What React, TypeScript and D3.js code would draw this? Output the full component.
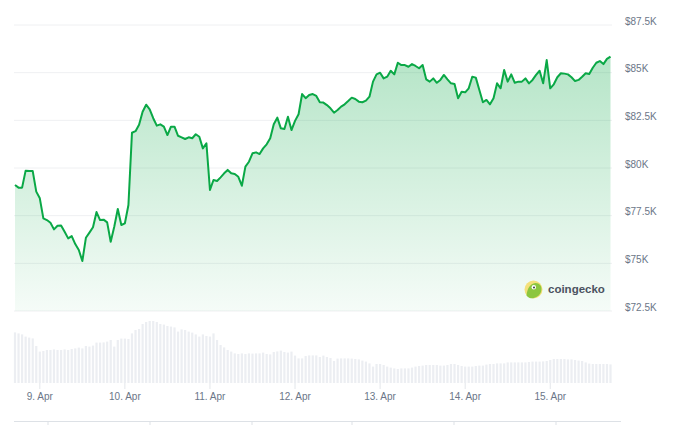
import React from "react";
import * as d3 from "d3";

const START = Date.UTC(2025, 3, 8, 17);
const HOUR = 3600 * 1000;

const prices: number[] = [
  79110, 78970, 78970, 79860, 79840, 79840, 78760, 78410, 77360, 77270,
  77130, 76780, 76970, 76990, 76660, 76310, 76430, 76010, 75700, 75120,
  76340, 76610, 76890, 77690, 77270, 77290, 77150, 76130, 76920, 77850,
  77010, 77100, 78060, 81850, 81930, 82270, 82950, 83320, 83080, 82610,
  82220, 82290, 82170, 81730, 82170, 82170, 81690, 81610, 81520, 81610,
  81560, 81770, 81640, 81030, 81300, 78850, 79370, 79320, 79510, 79720,
  79900, 79720, 79690, 79540, 79070, 80070, 80330, 80770, 80820, 80730,
  81030, 81240, 81560, 82290, 82640, 82080, 82050, 82690, 81990, 82470,
  82820, 83880, 83660, 83830, 83880, 83780, 83450, 83430, 83300, 83130,
  82900, 83040, 83220, 83340, 83510, 83690, 83620, 83480, 83450, 83530,
  83740, 84530, 84910, 85000, 84700, 84790, 85100, 84910, 85520, 85400,
  85400, 85310, 85450, 85350, 85230, 85400, 84650, 84530, 84700, 84470,
  84620, 84880, 84650, 84440, 84410, 83660, 84000, 83970, 84180, 84790,
  84740, 84090, 83450, 83570, 83340, 83660, 84440, 84180, 85140, 84530,
  84910, 84470, 84530, 84530, 84700, 84440, 84620, 84880, 85100, 84440,
  85660, 84180, 84390, 84760, 84970, 84950, 84910, 84760, 84560, 84620,
  84790, 84970, 84930, 85260, 85520, 85610, 85450, 85720, 85840,
];

// hourly volume, billions USD
const volumes: number[] = [
  2.53, 2.48, 2.43, 2.32, 2.27, 2.23, 1.85, 1.57, 1.6, 1.65,
  1.65, 1.68, 1.65, 1.65, 1.68, 1.65, 1.7, 1.73, 1.77, 1.73,
  1.85, 1.82, 1.87, 2.02, 2.02, 2.03, 2.07, 2.15, 1.82, 2.15,
  2.22, 2.22, 2.2, 2.48, 2.65, 2.7, 2.95, 3.05, 3.1, 3.1,
  3.05, 2.95, 2.92, 2.85, 2.82, 2.78, 2.57, 2.68, 2.65, 2.57,
  2.52, 2.43, 2.32, 2.43, 2.35, 2.32, 2.48, 2.15, 1.9, 1.78,
  1.65, 1.57, 1.48, 1.45, 1.48, 1.45, 1.48, 1.47, 1.48, 1.48,
  1.52, 1.45, 1.43, 1.55, 1.58, 1.62, 1.55, 1.52, 1.57, 1.37,
  1.23, 1.23, 1.35, 1.38, 1.38, 1.38, 1.3, 1.37, 1.3, 1.25,
  1.1, 1.22, 1.23, 1.23, 1.23, 1.22, 1.2, 1.18, 1.12, 1.07,
  0.98, 0.82, 0.95, 0.95, 0.9, 0.82, 0.77, 0.73, 0.7, 0.73,
  0.73, 0.73, 0.77, 0.82, 0.85, 0.87, 0.9, 0.9, 0.9, 0.9,
  0.87, 0.87, 0.9, 0.95, 0.95, 0.9, 0.85, 0.82, 0.82, 0.82,
  0.85, 0.87, 0.87, 0.92, 0.95, 0.95, 0.98, 0.98, 0.98, 1.03,
  1.03, 1.03, 1.03, 1.03, 1.03, 1.05, 1.07, 1.07, 1.07, 1.08,
  1.1, 1.15, 1.2, 1.2, 1.2, 1.2, 1.18, 1.18, 1.15, 1.12,
  1.1, 1.03, 0.97, 0.95, 0.95, 0.95, 0.95, 0.95, 0.93,
];

const yTickValues: number[] = [72500, 75000, 77500, 80000, 82500, 85000, 87500];
const yTickLabels: string[] = ["$72.5K", "$75K", "$77.5K", "$80K", "$82.5K", "$85K", "$87.5K"];
const tickDays: number[] = [9, 10, 11, 12, 13, 14, 15];

const W = 680;
const H = 425;

export default function App() {
  const times = prices.map((_, i) => new Date(START + i * HOUR));
  const x = d3.scaleUtc().domain([times[0], times[times.length - 1]]).range([15, 610.5]);
  const y = d3.scaleLinear().domain([72500, 87500]).range([311, 25]);
  const yv = d3.scaleLinear().domain([0, 3.1]).range([383, 321]);

  const line = d3
    .line<number>()
    .x((_, i) => x(times[i]))
    .y((d) => y(d));
  const area = d3
    .area<number>()
    .x((_, i) => x(times[i]))
    .y0(y(72500))
    .y1((d) => y(d));

  const fmt = d3.utcFormat("%-d. %b");
  const dayTicks = tickDays.map((d) => new Date(Date.UTC(2025, 3, d)));
  const navTicks = [48, 150, 252, 352, 454, 556];

  const font = "'Liberation Sans', Arial, sans-serif";

  return (
    <svg
      width={W}
      height={H}
      style={{ position: "absolute", left: 0, top: 0, background: "#fff" }}
      fontFamily={font}
    >
      <defs>
        <linearGradient id="areaGrad" x1="0" y1="0" x2="0" y2="1">
          <stop offset="0" stopColor="#0aa846" stopOpacity={0.3} />
          <stop offset="1" stopColor="#0aa846" stopOpacity={0.04} />
        </linearGradient>
      </defs>

      {/* grid */}
      {yTickValues.map((v) => (
        <line key={v} x1={14} x2={612} y1={y(v)} y2={y(v)} stroke="#eff0f2" strokeWidth={1} />
      ))}

      {/* area and line */}
      <path d={area(prices) || ""} fill="url(#areaGrad)" />
      <path d={line(prices) || ""} fill="none" stroke="#0aa846" strokeWidth={2} strokeLinejoin="round" />

      {/* volume bars */}
      {volumes.map((v, i) => (
        <rect
          key={i}
          x={x(times[i]) - 1.1}
          y={yv(v)}
          width={2.2}
          height={yv(0) - yv(v)}
          fill="#eceef2"
        />
      ))}

      {/* y labels */}
      {yTickValues.map((v, i) => (
        <text key={v} x={625} y={y(v) - 0.5} fontSize={10} fill="#6b7688">
          {yTickLabels[i]}
        </text>
      ))}

      {/* x ticks and labels */}
      {dayTicks.map((d) => (
        <g key={d.getTime()}>
          <line x1={x(d)} x2={x(d)} y1={383} y2={389} stroke="#e3e6ea" />
          <text x={x(d)} y={400} fontSize={10} fill="#6b7688" textAnchor="middle">
            {fmt(d)}
          </text>
        </g>
      ))}

      {/* navigator top */}
      <line x1={14} x2={621} y1={421.5} y2={421.5} stroke="#dde1e6" />
      {navTicks.map((t) => (
        <line key={t} x1={t} x2={t} y1={421} y2={425} stroke="#dde1e6" />
      ))}

      {/* watermark */}
      <g>
        <circle cx={533.5} cy={289.5} r={9} fill="#f4e07a" />
        <path d="M 526.5 295.5 C 527 289 530 283.5 535.5 283 C 540.5 283 542.5 287.5 541 292 C 539.5 296 535 298.6 531 298.3 C 529 298 527.5 297 526.5 295.5 Z" fill="#8cc63f" />
        <circle cx={533.8} cy={287.3} r={2.2} fill="#fff" />
        <circle cx={534} cy={287.4} r={1} fill="#3a3a3a" />
        <text x={548} y={293.3} fontSize={11.5} fontWeight="bold" fill="#4b5260">
          coingecko
        </text>
      </g>
    </svg>
  );
}
